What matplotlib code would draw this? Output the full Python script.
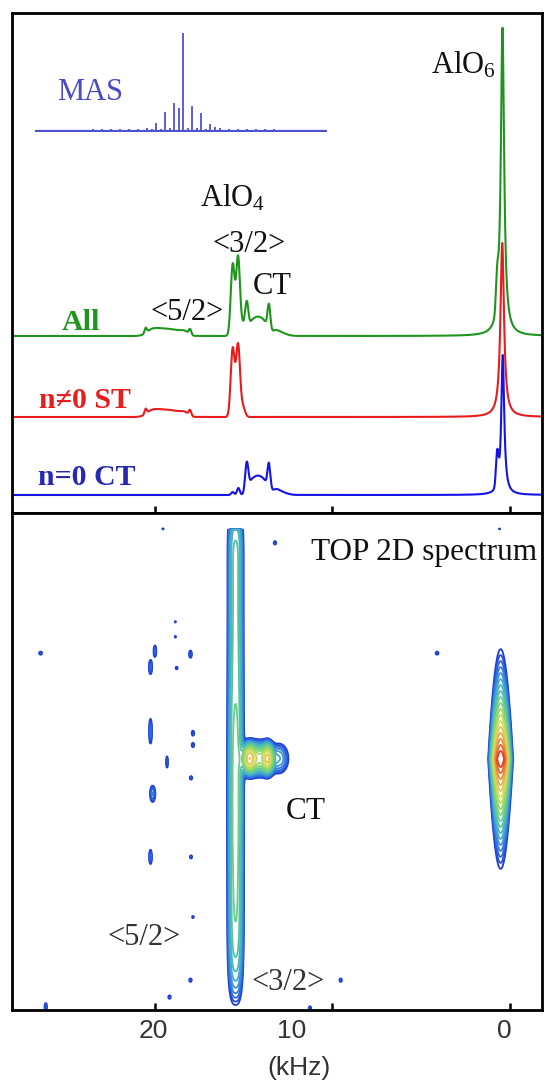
import numpy as np
import matplotlib
matplotlib.use("Agg")
import matplotlib.pyplot as plt
from matplotlib.colors import LinearSegmentedColormap

plt.rcParams["mathtext.fontset"] = "custom"
plt.rcParams["mathtext.rm"] = "Liberation Serif"
plt.rcParams["mathtext.it"] = "Liberation Serif:italic"

SERIF = ["Liberation Serif", "DejaVu Serif"]
SANS = ["Liberation Sans", "DejaVu Sans"]

# ---------------- 1D spectra: line components (kHz) ----------------
# n != 0 satellite transitions (red trace)
st_pos = [0.44, 15.62, 15.32, 15.05, 20.52, 20.2, 19.7, 19.2, 18.7, 18.3, 18.02]
st_amp = [34.8, 13.6, 14.3, 2.0, 1.0, 1.15, 1.05, 0.95, 0.85, 0.7, 1.1]
st_wid = [0.12, 0.11, 0.11, 0.12, 0.06, 0.3, 0.3, 0.3, 0.3, 0.2, 0.07]
st_lor = [1, 0, 0, 0, 0, 0, 0, 0, 0, 0, 0]

# n = 0 central transition (blue trace)
ct_pos = [0.41, 0.72, 15.62, 15.3, 14.83, 14.55, 14.2, 13.85, 13.58, 13.2, 12.8]
ct_amp = [28.0, 6.5, 0.6, 1.4, 5.7, 2.5, 2.8, 2.5, 5.1, 1.0, 0.4]
ct_wid = [0.10, 0.07, 0.08, 0.08, 0.09, 0.2, 0.2, 0.2, 0.08, 0.25, 0.3]
ct_lor = [1, 0, 0, 0, 0, 0, 0, 0, 0, 0, 0]

# vertical offsets of the stacked traces
offset_ct, offset_st, offset_all = 3.6, 19.2, 35.4

# MAS inset: spinning sidebands (order, height)
mas_order_a = list(range(-16, 16))
mas_height_a = [1.5, 1.5, 1.5, 1.5, 1.5, 1.5, 2, 2, 2, 2, 2.5, 2.5, 3.5,
                8, 19, 28, 98, 25, 18, 7,
                3.5, 2.5, 2.5, 2, 2, 2, 2, 1.5, 1.5, 1.5, 1.5, 1.5]
mas_order_b = [-3.5, -2.5, -1.5, -0.5, 0.5, 1.5, 2.5, 3.5]
mas_height_b = [2, 2.5, 3, 23, 3.5, 3, 2.5, 4]

# ---------------- 2D TOP spectrum components ----------------
# AlO4 satellite ridge along the indirect dimension (two edges of the <3/2> line)
ridge_x = [15.62, 15.3]
ridge_sx = 0.18
ridge_y = [96, 90, 84, 78, 72, 66, 60, 54, 48, 42, 36, 30, 24, 18, 12, 6]
ridge_amp = [2.4, 2.3, 2.3, 2.3, 2.4, 2.5, 2.7, 2.9, 3.0, 3.0, 3.0, 2.9, 2.8, 2.7, 2.4, 1.5]
ridge_top = 96.8

# AlO4 CT island and noise spots: (kHz, F1, amplitude, sigma kHz, sigma F1)
spot_x = [14.7, 13.65, 14.2, 13.0,
          19.55, 13.24, 0.59, 26.44, 4.11, 18.85, 18.85, 18.78, 20.0, 20.25, 18.0,
          20.25, 17.86, 17.86, 19.32, 17.97, 20.13, 20.25, 17.97, 17.86, -0.62,
          18.0, 19.18, 9.54, 26.15, 11.27]
spot_y = [50.6, 50.6, 50.6, 50.6,
          96.8, 94.0, 96.8, 71.8, 71.8, 78.1, 75.1, 68.8, 72.2, 69.0, 71.6,
          56.1, 55.7, 53.3, 49.9, 46.7, 43.5, 30.8, 30.8, 18.7, 18.7,
          6.0, 2.6, 6.0, 0.6, 0.4]
spot_amp = [18, 16, 10, 3,
            1.15, 1.3, 1.1, 1.3, 1.3, 1.1, 1.15, 1.2, 1.6, 1.7, 1.4,
            1.8, 1.3, 1.3, 1.4, 1.3, 2.0, 1.7, 1.25, 1.15, 1.05,
            1.3, 1.3, 1.3, 1.5, 1.3]
spot_sx = [0.2, 0.18, 0.4, 0.35,
           0.08, 0.1, 0.08, 0.12, 0.12, 0.08, 0.08, 0.1, 0.08, 0.09, 0.1,
           0.08, 0.1, 0.1, 0.07, 0.1, 0.13, 0.08, 0.1, 0.1, 0.1,
           0.1, 0.1, 0.1, 0.08, 0.1]
spot_sy = [1.6, 1.6, 1.8, 2.0,
           0.3, 0.5, 0.3, 0.45, 0.45, 0.35, 0.35, 0.45, 1.2, 1.4, 0.9,
           2.3, 0.7, 0.6, 1.4, 0.5, 1.4, 1.4, 0.5, 0.45, 0.25,
           0.5, 0.5, 0.5, 0.9, 0.5]

# AlO6 site
alo6_x, alo6_y, alo6_amp, alo6_sx, alo6_ly = 0.53, 50.5, 60.0, 0.246, 5.4

contour_anchor = ["#1e3cd6", "#3070e0", "#40a8d0", "#58c8a0",
                  "#90d860", "#dcdc60", "#eca048", "#e63a22"]


def spectrum(x, pos, amp, wid, lor):
    out = np.zeros_like(x)
    for p, a, w, l in zip(pos, amp, wid, lor):
        if l:
            out += a / (1 + ((x - p) / w) ** 2)
        else:
            out += a * np.exp(-(x - p) ** 2 / (2 * w ** 2))
    return out


fig = plt.figure(figsize=(5.45, 10.84), dpi=100)
W, H = 545.0, 1084.0
x0, x1 = 11.5, 542.0
ax1 = fig.add_axes([x0 / W, 1 - 513 / H, (x1 - x0) / W, 500 / H])
ax2 = fig.add_axes([x0 / W, 1 - 1010 / H, (x1 - x0) / W, 497 / H])

xlim = (28.08, -1.8)

# ---------------- top panel ----------------
f = np.linspace(-2, 28.5, 8000)
st = spectrum(f, st_pos, st_amp, st_wid, st_lor)
ct = spectrum(f, ct_pos, ct_amp, ct_wid, ct_lor)
ax1.plot(f, st + ct + offset_all, color="#1e961e", lw=1.5)
ax1.plot(f, st + offset_st, color="#e81c1c", lw=1.5)
ax1.plot(f, ct + offset_ct, color="#1414e6", lw=1.5)
ax1.set_xlim(*xlim)
ax1.set_ylim(0, 100)

ax1.text(24.18, 36.7, "All", color="#1e961e", fontsize=21.5, fontweight="bold",
         family=SERIF, ha="center", va="baseline")
ax1.text(23.94, 20.9, "n\u22600 ST", color="#e61e1e", fontsize=21.5, fontweight="bold",
         family=SERIF, ha="center", va="baseline")
ax1.text(23.85, 5.6, "n=0 CT", color="#2828b4", fontsize=21.5, fontweight="bold",
         family=SERIF, ha="center", va="baseline")

lab = dict(family=SERIF, fontsize=22, color="#111111", va="baseline")
ax1.text(4.45, 88.0, r"AlO$_\mathregular{6}$", ha="left", **lab)
ax1.text(17.46, 61.3, r"AlO$_\mathregular{4}$", ha="left", **lab)
ax1.text(14.7, 52.3, "<3/2>", ha="center", **lab)
ax1.text(13.38, 43.9, "CT", ha="center", **lab)
ax1.text(18.2, 38.6, "<5/2>", ha="center", **lab)
ax1.text(23.63, 82.5, "MAS", ha="center", family=SERIF, fontsize=22,
         color="#4a4ac8", va="baseline")

ax1.set_xticks([0, 10, 20])
ax1.tick_params(axis="x", direction="in", length=5, width=1.8, labelbottom=False)
ax1.set_yticks([])

# MAS inset
axm = fig.add_axes([35 / W, 1 - 132 / H, (327 - 35) / W, 102 / H])
axm.vlines(mas_order_a, 0, mas_height_a, color="#5050d2", lw=1.3)
axm.vlines(mas_order_b, 0, mas_height_b, color="#5050d2", lw=1.3)
axm.axhline(0, color="#5050d2", lw=1.6)
axm.set_xlim(-16.35, 15.85)
axm.set_ylim(-1, 101)
axm.axis("off")

# ---------------- bottom panel: 2D contour ----------------
gx = np.arange(-2.0, 28.2, 0.025)
gy = np.arange(0.0, 100.01, 0.2)
X, Y = np.meshgrid(gx, gy)
Z = np.zeros_like(X)
for rx in ridge_x:
    for ry, ra in zip(ridge_y, ridge_amp):
        Z += ra * np.exp(-(X - rx) ** 2 / (2 * ridge_sx ** 2) - (Y - ry) ** 2 / (2 * 4.0 ** 2))
Z[Y > ridge_top] = 0
for sx_, sy_, a, wx, wy in zip(spot_x, spot_y, spot_amp, spot_sx, spot_sy):
    Z += a * np.exp(-(X - sx_) ** 2 / (2 * wx ** 2) - (Y - sy_) ** 2 / (2 * wy ** 2))
Z += alo6_amp * np.exp(-(X - alo6_x) ** 2 / (2 * alo6_sx ** 2)) * np.exp(-np.abs(Y - alo6_y) / alo6_ly)

n_levels = 18
levels = 1.25 ** np.arange(n_levels)
cmap = LinearSegmentedColormap.from_list("topjet", contour_anchor)
colors = [cmap(i / (n_levels - 1)) for i in range(n_levels)]
ax2.contour(X, Y, Z, levels=levels, colors=colors, linewidths=1.3)
ax2.set_xlim(*xlim)
ax2.set_ylim(0, 100)

lab2 = dict(family=SERIF, fontsize=22.5, color="#111111", va="baseline", ha="center")
ax2.text(4.87, 90.5, "TOP 2D spectrum", **lab2)
ax2.text(11.49, 38.4, "CT", **lab2)
ax2.text(20.6, 13.1, "<5/2>", color="#333333", family=SERIF, fontsize=22,
         va="baseline", ha="center")
ax2.text(12.48, 4.0, "<3/2>", color="#333333", family=SERIF, fontsize=22,
         va="baseline", ha="center")

ax2.set_yticks([])
ax2.set_xticks([0, 10, 20])
ax2.tick_params(axis="x", which="major", direction="in", length=5, width=1.8,
                labelbottom=False)
ax2.set_xticks([20.08, 12.28, 0.34], ["20", "10", "0"], minor=True)
ax2.tick_params(axis="x", which="minor", length=0, pad=6.5, labelsize=19,
                labelcolor="#333333")
for t in ax2.get_xticklabels(minor=True):
    t.set_family(SANS)
ax2.set_xlabel("(kHz)", fontsize=19, family=SANS, color="#333333")
ax2.xaxis.set_label_coords(0.542, -0.0926)

for ax in (ax1, ax2):
    for s in ax.spines.values():
        s.set_linewidth(2.0)

fig.savefig("out.png", dpi=100)
